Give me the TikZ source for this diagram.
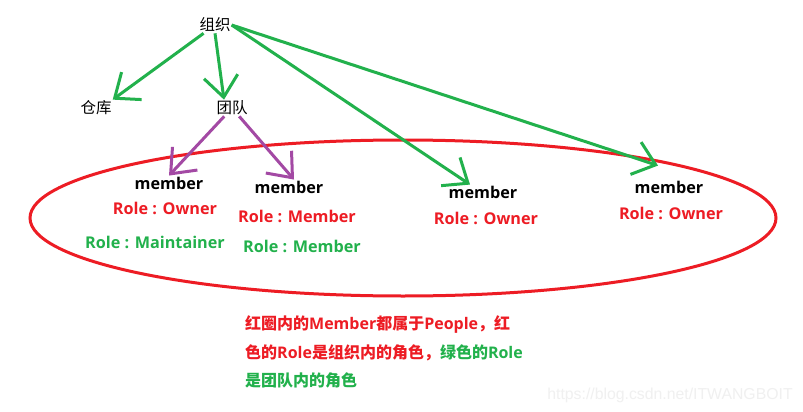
\documentclass[tikz,border=0pt]{standalone}
\usepackage{fontspec}
\setmainfont{Open Sans}
\newfontfamily\cjk{Noto Sans CJK SC}
\newfontfamily\wmfont{Liberation Sans}
\usetikzlibrary{arrows.meta}
\definecolor{paintred}{HTML}{ED1C24}
\definecolor{paintgreen}{HTML}{22B14C}
\definecolor{paintpurple}{HTML}{A349A4}
\tikzset{
  word/.style={inner sep=1pt, font=\cjk\fontsize{15.5}{16}\selectfont},
  mem/.style={inner sep=1pt, font=\bfseries\fontsize{16.2}{17}\selectfont},
  role/.style={inner sep=1pt, font=\bfseries\fontsize{16.2}{17}\selectfont},
  note/.style={inner sep=0pt, anchor=west, text=paintred, font=\bfseries\fontsize{16}{17}\selectfont},
  arr/.style={line width=3pt, -{Straight Barb[length=21pt,width=34pt]}},
}
\begin{document}
\begin{tikzpicture}[x=1pt, y=-1pt]
        \useasboundingbox[fill=white] (0,0) rectangle (803,412);
        %% org, store, team
        \node[word] (org) at (215,25) {组织};
        \node[word] (store) at (96,108) {仓库};
        \node[word] (team) at (232,108) {团队};
        %% members 1,2,3,4
        \node[mem] (m1) at (169,183) {member};
        \node[mem] (m2) at (289,187) {member};
        \node[mem] (m3) at (483,192) {member};
        \node[mem] (m4) at (669,187) {member};
        %% roles
        \node[role, text=paintred] (r1) at (165,208) {Role : Owner};
        \node[role, text=paintgreen] (g1) at (155,242) {Role : Maintainer};
        \node[role, text=paintred] (r2) at (297,216) {Role : Member};
        \node[role, text=paintgreen] (g2) at (302,246) {Role : Member};
        \node[role, text=paintred] (r3) at (486,218) {Role : Owner};
        \node[role, text=paintred] (r4) at (671,213) {Role : Owner};
        %% people circle
        \draw[paintred, line width=3pt] (403,218) ellipse [x radius=373pt, y radius=78pt];
        %% green arrows from org
        \draw[arr, paintgreen] (org) -- (store.north east);
        \draw[arr, paintgreen] (org.south) -- ([xshift=-8pt]team.north);
        \draw[arr, paintgreen] (org.east) -- ([xshift=-13pt]m3.north);
        \draw[arr, paintgreen] (org.east) -- ([shift={(-11pt,14pt)}]m4.north);
        %% purple arrows from team
        \draw[arr, paintpurple] (team) -- (m1.north);
        \draw[arr, paintpurple] (team) -- ([xshift=5pt]m2.north);
        %% note below
        \node[note] (n1) at (245,325) {{\cjk 红圈内的}Member{\cjk 都属于}People{\cjk ，红}};
        \node[note] (n2) at (245,353) {{\cjk 色的}Role{\cjk 是组织内的角色，}\textcolor{paintgreen}{{\cjk 绿色的}Role}};
        \node[note, text=paintgreen] (n3) at (245,380) {\cjk 是团队内的角色};
        %% watermark
        \node[inner sep=0pt, text=black!6, font=\wmfont\fontsize{15.8}{16}\selectfont] (wm) at (670,395) {https://blog.csdn.net/ITWANGBOIT};
    \end{tikzpicture}
\end{document}
